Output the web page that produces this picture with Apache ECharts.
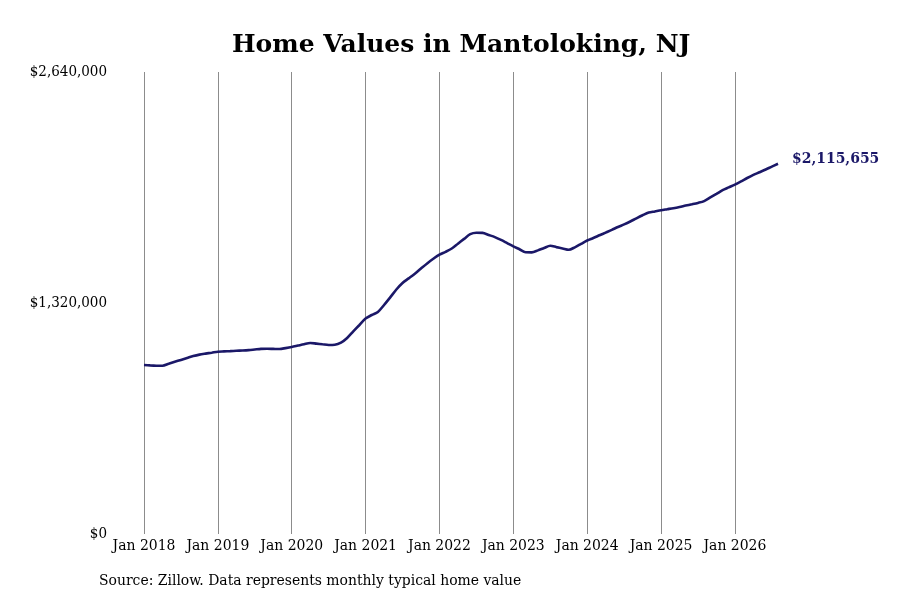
<!DOCTYPE html>
<html>
<head>
    <meta charset="utf-8">
    <title>Home Values in Mantoloking, NJ</title>
    <script src="https://cdn.jsdelivr.net/npm/echarts@6/dist/echarts.min.js"></script>
    <style>
        html, body { margin: 0; padding: 0; background: #fff; }
        #chart { width: 900px; height: 600px; }
    </style>
</head>
<body>
<div id="chart"></div>
<script type="text/javascript">
    // monthly typical home value, Jan 2018 .. Aug 2026
    var startYear = 2018;
    var homeValues = [
        965700, 963400, 961700, 961100, 972600, 984000, 994900, 1005700, 1016600, 1025100, 1030900, 1036000,
        1041700, 1043400, 1045100, 1046900, 1048600, 1050900, 1054300, 1057700, 1058300, 1057700, 1057100, 1062300,
        1068600, 1076600, 1084600, 1091400, 1088000, 1084000, 1080000, 1081100, 1093100, 1120000, 1157700, 1194300,
        1230900, 1251400, 1269100, 1308600, 1352000, 1397200, 1434300, 1460600, 1487400, 1517200, 1546300, 1572600,
        1596600, 1612600, 1631400, 1658900, 1686300, 1713100, 1721200, 1720600, 1708600, 1696600, 1680600, 1662300,
        1644000, 1626900, 1609700, 1609200, 1620600, 1634300, 1646900, 1639400, 1632000, 1624000, 1638300, 1657700,
        1677200, 1691400, 1706900, 1722300, 1737700, 1754300, 1769200, 1785700, 1804000, 1821200, 1836600, 1843400,
        1850300, 1856000, 1861700, 1868600, 1876600, 1884000, 1892000, 1902300, 1922900, 1943400, 1964600, 1980600,
        1996600, 2014900, 2034300, 2052000, 2067400, 2082900, 2099400, 2115655
    ];
    var monthNames = ['Jan','Feb','Mar','Apr','May','Jun','Jul','Aug','Sep','Oct','Nov','Dec'];
    var months = homeValues.map(function (v, i) {
        return monthNames[i % 12] + ' ' + (startYear + Math.floor(i / 12));
    });
    var yTicks = [0, 1320000, 2640000];

    var fontCond = '"DejaVu Serif Condensed", "DejaVu Serif", serif';
    var lineColor = '#1b1868';

    function money(v) {
        return '$' + Math.round(v).toString().replace(/\B(?=(\d{3})+(?!\d))/g, ',');
    }

    var myChart = echarts.init(document.getElementById('chart'));
    myChart.setOption({
        animation: false,
        title: {
            text: 'Home Values in Mantoloking, NJ',
            left: 227,
            top: 28,
            textStyle: {
                fontFamily: '"DejaVu Serif", serif',
                fontWeight: 'bold',
                fontSize: 25,
                color: '#000'
            }
        },
        graphic: [{
            type: 'text',
            left: 99,
            top: 573,
            style: {
                text: 'Source: Zillow. Data represents monthly typical home value',
                font: '15.5px ' + fontCond,
                fill: '#000'
            }
        }],
        grid: { left: 144, right: 122, top: 72, bottom: 66 },
        xAxis: {
            type: 'category',
            data: months,
            boundaryGap: false,
            axisLine: { show: false },
            axisTick: { show: false },
            axisLabel: {
                interval: function (i) { return i % 12 === 0; },
                margin: 4,
                fontFamily: fontCond,
                fontSize: 15.5,
                color: '#000'
            },
            splitLine: {
                show: true,
                interval: function (i) { return i % 12 === 0; },
                lineStyle: { color: '#8c8c8c', width: 1 }
            }
        },
        yAxis: {
            type: 'value',
            min: yTicks[0],
            max: yTicks[2],
            interval: yTicks[1],
            axisLine: { show: false },
            axisTick: { show: false },
            splitLine: { show: false },
            axisLabel: {
                margin: 37,
                fontFamily: fontCond,
                fontSize: 15,
                color: '#000',
                formatter: money
            }
        },
        series: [{
            type: 'line',
            data: homeValues,
            smooth: 0.3,
            showSymbol: false,
            lineStyle: { color: lineColor, width: 2.6 },
            endLabel: {
                show: true,
                distance: 14,
                offset: [0, -5],
                formatter: function (p) { return money(p.value); },
                fontFamily: fontCond,
                fontWeight: 'bold',
                fontSize: 15.5,
                color: lineColor
            }
        }]
    });
</script>
</body>
</html>
